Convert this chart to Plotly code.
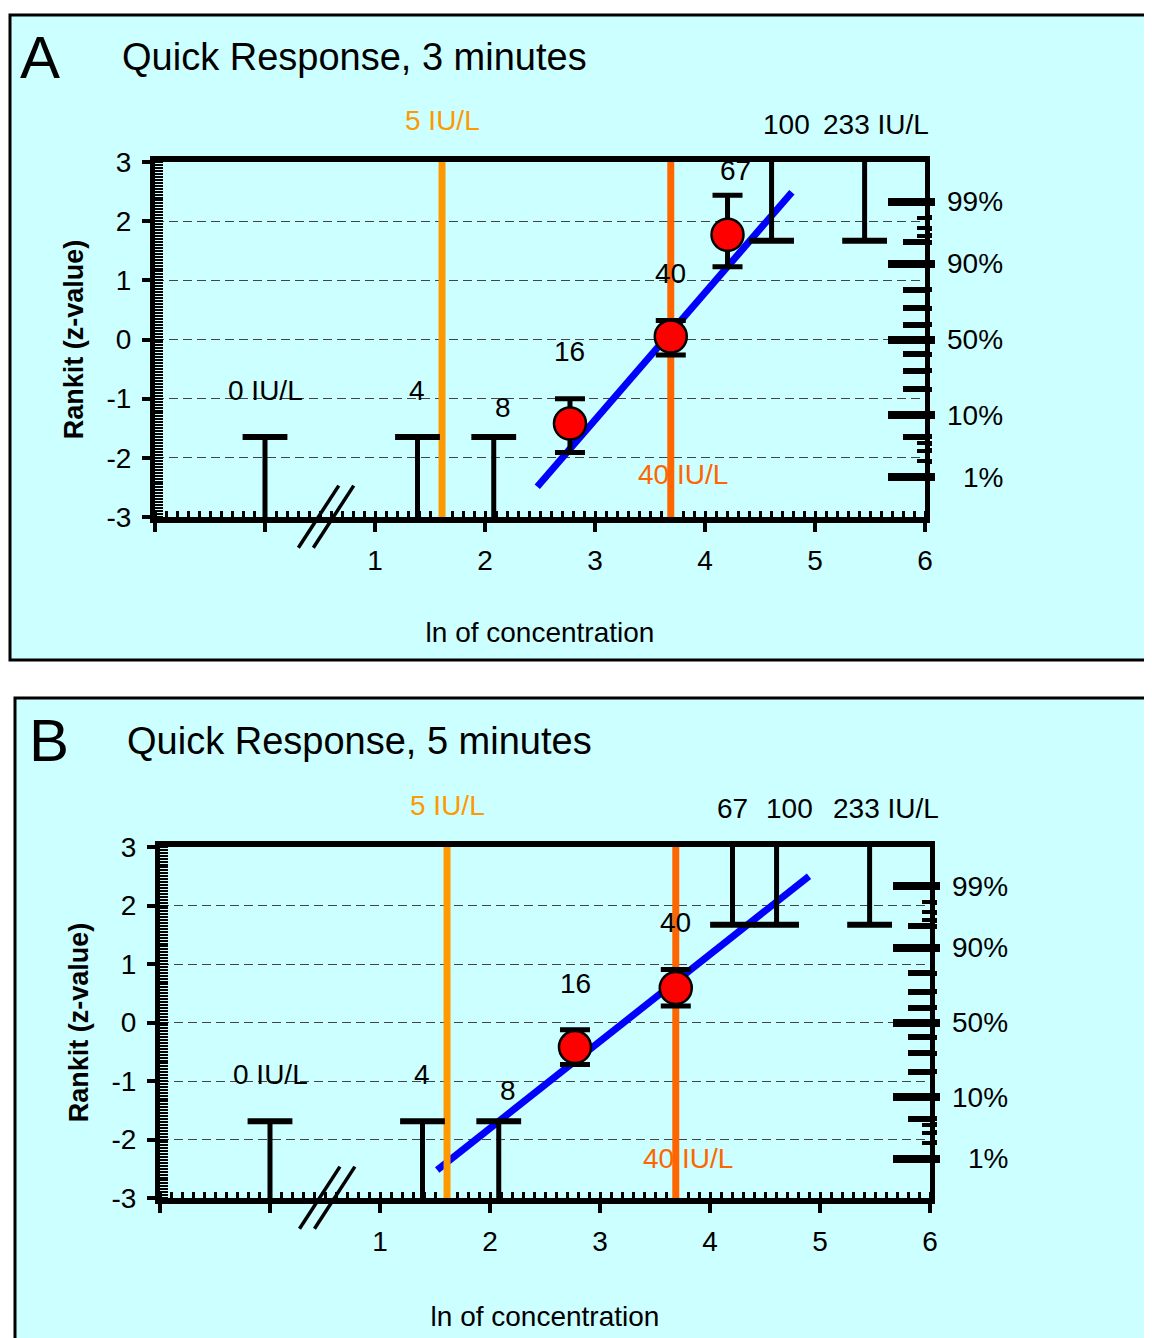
import math
from statistics import NormalDist
import plotly.graph_objects as go

# the page body adds an 8px margin; compensate so the layout lands where intended
OFF = 8
W, H = 1152 - OFF, 1338 - OFF
FONT = "Liberation Sans, Arial, Helvetica, sans-serif"

# ------------------------------------------------------------------ data
# concentrations in IU/L ; 0 IU/L is drawn at position 0 behind an axis break
ref_conc = [5, 40]
ref_colors = ["#FF9900", "#FF6600"]

# Panel A : 3 minutes
A_low_conc = [0, 4, 8]          # all results negative -> only an upper bound
A_low_cap = [-1.65, -1.65, -1.65]
A_high_conc = [100, 233]        # all results positive -> only a lower bound
A_high_cap = [1.67, 1.67]
A_pt_conc = [16, 40, 67]
A_pt_z = [-1.42, 0.05, 1.77]
A_pt_err_up = [0.42, 0.27, 0.67]
A_pt_err_dn = [0.49, 0.31, 0.54]
A_fit_x = [2.475, 4.79]
A_fit_z = [-2.49, 2.49]

# Panel B : 5 minutes
B_low_conc = [0, 4, 8]
B_low_cap = [-1.69, -1.69, -1.69]
B_high_conc = [67, 100, 233]
B_high_cap = [1.67, 1.67, 1.67]
B_pt_conc = [16, 40]
B_pt_z = [-0.42, 0.59]
B_pt_err_up = [0.295, 0.316]
B_pt_err_dn = [0.30, 0.31]
B_fit_x = [1.52, 4.90]
B_fit_z = [-2.52, 2.50]

censor_extent = 3.35            # censored bars run past the axis frame

# probability scale on the right axis (percent)
prob_major = [1, 10, 50, 90, 99]
prob_medium = [5, 20, 30, 40, 60, 70, 80, 95]
prob_small = [2, 3, 4, 96, 97, 98]

x_range = [-1, 6]
y_range = [-3, 3]
x_tick_vals = [-1, 0, 1, 2, 3, 4, 5, 6]
x_tick_text = ["", "", "1", "2", "3", "4", "5", "6"]
y_tick_vals = [-3, -2, -1, 0, 1, 2, 3]
y_tick_text = ["-3", "-2", "-1", "0", "1", "2", "3"]


def xpos(c):
    return 0.0 if c == 0 else math.log(c)


def zq(p):
    return NormalDist().inv_cdf(p / 100.0)


def ydom(z):
    return (z - y_range[0]) / (y_range[1] - y_range[0])


def PX(xp):
    return (xp - OFF) / W


def PY(yp):
    return 1 - (yp - OFF) / H


fig = go.Figure()
annotations = []
shapes = []


def panel(xa, ya, data, labels, break_x):
    low_conc, low_cap, high_conc, high_cap, pt_conc, pt_z, eu, ed, fx, fz = data
    # blue fitted line
    fig.add_trace(go.Scatter(x=fx, y=fz, mode="lines", xaxis=xa, yaxis=ya,
                             line=dict(color="#0000FF", width=7), hoverinfo="skip"))
    # reference concentration lines
    for c, col in zip(ref_conc, ref_colors):
        fig.add_trace(go.Scatter(x=[xpos(c), xpos(c)], y=y_range, mode="lines",
                                 xaxis=xa, yaxis=ya, line=dict(color=col, width=7),
                                 hoverinfo="skip"))
    # censored (one sided) bars
    fig.add_trace(go.Scatter(
        x=[xpos(c) for c in low_conc], y=low_cap, mode="markers", xaxis=xa, yaxis=ya,
        cliponaxis=False,
        marker=dict(symbol="line-ew", size=32, line=dict(width=6, color="black")),
        error_y=dict(type="data", symmetric=False, array=[0] * len(low_cap),
                     arrayminus=[v + censor_extent for v in low_cap],
                     width=0, thickness=5, color="black")))
    fig.add_trace(go.Scatter(
        x=[xpos(c) for c in high_conc], y=high_cap, mode="markers", xaxis=xa, yaxis=ya,
        cliponaxis=False,
        marker=dict(symbol="line-ew", size=32, line=dict(width=6, color="black")),
        error_y=dict(type="data", symmetric=False, arrayminus=[0] * len(high_cap),
                     array=[censor_extent - v for v in high_cap],
                     width=0, thickness=5, color="black")))
    # measured rankits
    fig.add_trace(go.Scatter(
        x=[xpos(c) for c in pt_conc], y=pt_z, mode="markers", xaxis=xa, yaxis=ya,
        cliponaxis=False,
        marker=dict(symbol="circle", size=32, color="#FF0000",
                    line=dict(width=2.5, color="black")),
        error_y=dict(type="data", symmetric=False, array=eu, arrayminus=ed,
                     width=15, thickness=5, color="black")))
    # axis-break slashes (sitting on the bottom axis line)
    fig.add_trace(go.Scatter(
        x=[break_x - 0.068, break_x + 0.068], y=[-2.995, -2.995], mode="markers",
        xaxis=xa, yaxis=ya, cliponaxis=False, hoverinfo="skip",
        marker=dict(symbol="line-ns", size=53, angle=33,
                    line=dict(width=3.5, color="black"))))
    # labels (y given in axis-domain units so that labels above the frame are kept)
    for txt, lx, ly, col in labels:
        annotations.append(dict(text=txt, x=lx, y=ydom(ly), xref=xa, yref=ya + " domain",
                                showarrow=False, xanchor="center", yanchor="middle",
                                font=dict(size=28, color=col, family=FONT)))
    # percent labels on probability scale
    for p in prob_major:
        annotations.append(dict(text=f"{p}%", x=1, y=zq(p), xref=xa + " domain", yref=ya,
                                xanchor="right", yanchor="middle", xshift=80,
                                showarrow=False,
                                font=dict(size=28, color="black", family=FONT)))


A_labels = [
    ("0 IU/L", 0.0, -0.87, "black"), ("4", xpos(4), -0.87, "black"),
    ("8", 2.16, -1.15, "black"), ("16", 2.77, -0.20, "black"),
    ("40", xpos(40), 1.12, "black"), ("67", 4.28, 2.86, "black"),
    ("100", 4.74, 3.63, "black"), ("233 IU/L", 5.55, 3.63, "black"),
    ("5 IU/L", xpos(5), 3.70, ref_colors[0]), ("40 IU/L", 3.80, -2.29, ref_colors[1]),
]
B_labels = [
    ("0 IU/L", 0.0, -0.89, "black"), ("4", xpos(4), -0.89, "black"),
    ("8", 2.16, -1.16, "black"), ("16", 2.78, 0.67, "black"),
    ("40", xpos(40), 1.71, "black"), ("67", 4.20, 3.66, "black"),
    ("100", 4.72, 3.66, "black"), ("233 IU/L", 5.60, 3.66, "black"),
    ("5 IU/L", xpos(5), 3.71, ref_colors[0]), ("40 IU/L", 3.80, -2.32, ref_colors[1]),
]

panel("x", "y",
      (A_low_conc, A_low_cap, A_high_conc, A_high_cap, A_pt_conc, A_pt_z,
       A_pt_err_up, A_pt_err_dn, A_fit_x, A_fit_z), A_labels, 0.555)
panel("x2", "y2",
      (B_low_conc, B_low_cap, B_high_conc, B_high_cap, B_pt_conc, B_pt_z,
       B_pt_err_up, B_pt_err_dn, B_fit_x, B_fit_z), B_labels, 0.52)


def x_axis(dom, anchor, title_standoff):
    return dict(domain=dom, anchor=anchor, range=x_range, tickmode="array",
                tickvals=x_tick_vals, ticktext=x_tick_text, ticks="outside", ticklen=9,
                tickwidth=4, tickcolor="black",
                minor=dict(tickmode="linear", tick0=-1, dtick=0.1, ticks="inside",
                           ticklen=6, tickwidth=3, tickcolor="black", showgrid=False),
                showline=True, linewidth=6, linecolor="black", mirror=True,
                showgrid=False, zeroline=False, layer="below traces", automargin=False,
                tickfont=dict(size=28, color="black", family=FONT), ticklabelstandoff=4,
                title=dict(text="ln of concentration", standoff=title_standoff,
                           font=dict(size=28, color="black", family=FONT)),
                fixedrange=True)


def y_axis(dom, anchor):
    return dict(domain=dom, anchor=anchor, range=y_range, tickmode="array",
                tickvals=y_tick_vals, ticktext=y_tick_text, ticks="outside", ticklen=8,
                tickwidth=4, tickcolor="black",
                minor=dict(tickmode="linear", tick0=-3, dtick=0.05, ticks="inside",
                           ticklen=8, tickwidth=2, tickcolor="black", showgrid=False),
                showgrid=True, gridcolor="#444444", griddash="9px,5px", gridwidth=1,
                showline=True, linewidth=5, linecolor="black", mirror=True,
                zeroline=False, layer="below traces", automargin=False,
                tickfont=dict(size=28, color="black", family=FONT), ticklabelstandoff=5,
                title=dict(text="Rankit (z-value)", standoff=17,
                           font=dict(size=27, color="black", family=FONT, weight="bold")),
                fixedrange=True)


def prob_axis(base, anchor, major_vals, major_len, major_w, ticks, minor_vals,
              minor_len, minor_w):
    d = dict(overlaying=base, anchor=anchor, side="right", range=y_range,
             tickmode="array", tickvals=major_vals, ticks=ticks, ticklen=major_len,
             tickwidth=major_w, tickcolor="black", showticklabels=False,
             showgrid=False, showline=False, zeroline=False, fixedrange=True,
             automargin=False)
    if minor_vals:
        d["minor"] = dict(tickmode="array", tickvals=minor_vals, ticks=ticks,
                          ticklen=minor_len, tickwidth=minor_w, tickcolor="black",
                          showgrid=False)
    return d


zmaj = [zq(p) for p in prob_major]
zmed = [zq(p) for p in prob_medium]
zsml = [zq(p) for p in prob_small]

xa_dom = [PX(155), PX(925)]
ya_dom = [PY(517), PY(162)]
xb_dom = [PX(160), PX(930)]
yb_dom = [PY(1198), PY(847)]

layout = dict(
    width=W, height=H, margin=dict(l=0, r=0, t=0, b=0, pad=0, autoexpand=False),
    paper_bgcolor="white", plot_bgcolor="white", showlegend=False,
    font=dict(family=FONT, color="black"),
    xaxis=x_axis(xa_dom, "y", 50), yaxis=y_axis(ya_dom, "x"),
    xaxis2=x_axis(xb_dom, "y2", 53), yaxis2=y_axis(yb_dom, "x2"),
    yaxis3=prob_axis("y", "x", zmaj, 37, 8, "inside", zmed, 22, 6),
    yaxis4=prob_axis("y", "x", zmaj, 9, 8, "outside", zmed + zsml, 6, 5),
    yaxis5=prob_axis("y", "x", zsml, 8, 4, "inside", None, 0, 0),
    yaxis6=prob_axis("y2", "x2", zmaj, 37, 8, "inside", zmed, 22, 6),
    yaxis7=prob_axis("y2", "x2", zmaj, 9, 8, "outside", zmed + zsml, 6, 5),
    yaxis8=prob_axis("y2", "x2", zsml, 8, 4, "inside", None, 0, 0),
)

# panel frames (cyan boxes)
for (l, t, b) in [(10, 15, 660), (15, 698, 1360)]:
    shapes.append(dict(type="rect", xref="paper", yref="paper", x0=PX(l), x1=PX(1170),
                       y0=PY(b), y1=PY(t), fillcolor="#CCFFFF",
                       line=dict(color="black", width=3), layer="below"))

# panel letters and titles
for letter, title, lx, tx, ty in [("A", "Quick Response, 3 minutes", 18, 120, 57),
                                  ("B", "Quick Response, 5 minutes", 27, 125, 741)]:
    annotations.append(dict(text=letter, x=PX(lx), y=PY(ty), xref="paper", yref="paper",
                            xanchor="left", yanchor="middle", showarrow=False,
                            font=dict(size=60, color="black", family=FONT)))
    annotations.append(dict(text=title, x=PX(tx), y=PY(ty), xref="paper", yref="paper",
                            xanchor="left", yanchor="middle", showarrow=False,
                            font=dict(size=38, color="black", family=FONT)))

layout["annotations"] = annotations
layout["shapes"] = shapes
fig.update_layout(**layout)

# attach the probability axes to the figure (invisible anchor traces)
for ya in ["y3", "y4", "y5"]:
    fig.add_trace(go.Scatter(x=[None], y=[None], xaxis="x", yaxis=ya, showlegend=False))
for ya in ["y6", "y7", "y8"]:
    fig.add_trace(go.Scatter(x=[None], y=[None], xaxis="x2", yaxis=ya, showlegend=False))

fig.write_html("out.html")
